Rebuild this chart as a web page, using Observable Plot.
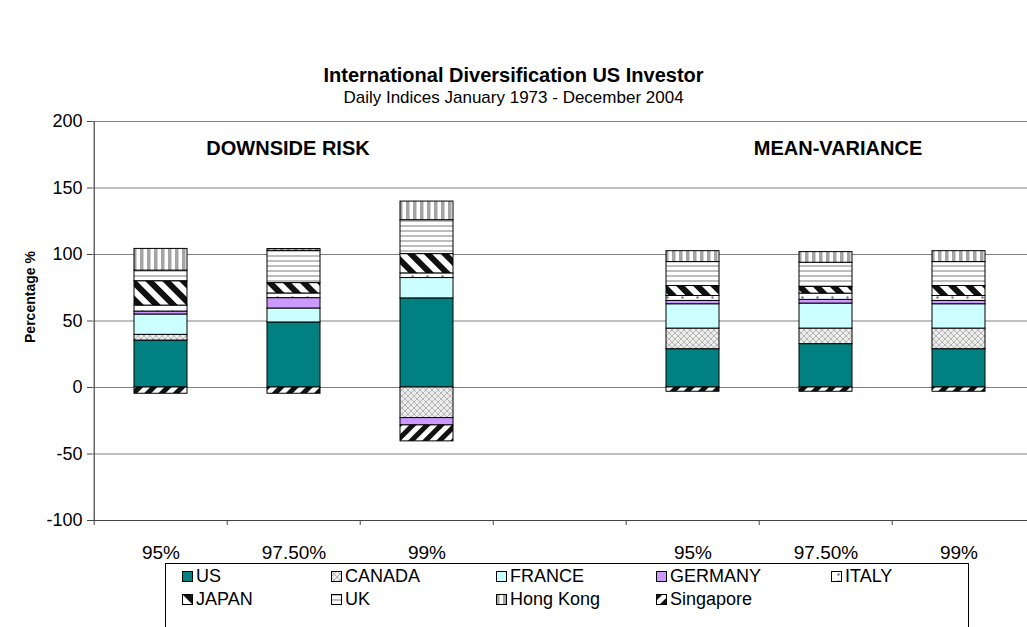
<!DOCTYPE html>
<html><head><meta charset="utf-8">
<script src="https://cdn.jsdelivr.net/npm/d3@7"></script>
<script src="https://cdn.jsdelivr.net/npm/@observablehq/plot@0.6"></script>
<style>
body{margin:0;background:#fff;font-family:"Liberation Sans",Arial,sans-serif;}
#wrap{position:relative;width:1027px;height:627px;overflow:hidden;background:#fff;}
.title{position:absolute;left:0;width:1027px;text-align:center;color:#000;white-space:nowrap;}
#legend{position:absolute;left:165px;top:563px;width:804px;height:90px;border:1px solid #000;box-sizing:border-box;background:#fff;}
.item{position:absolute;font-size:18px;color:#000;white-space:nowrap;display:flex;align-items:center;}
.item svg{margin-right:3px;}
</style></head><body>
<div id="wrap">
<svg width="0" height="0" style="position:absolute">
<defs>
<pattern id="p-canada" width="6" height="6" patternUnits="userSpaceOnUse">
<rect width="6" height="6" fill="#ececec"/>
<path d="M0,0L6,6M6,0L0,6" stroke="#b4b4b4" stroke-width="1"/>
</pattern>
<pattern id="p-italy" width="15" height="7" patternUnits="userSpaceOnUse">
<rect width="15" height="7" fill="#fff"/>
<circle cx="7.5" cy="3.5" r="1.2" fill="#777"/>
</pattern>
<pattern id="p-japan" width="12" height="12" patternUnits="userSpaceOnUse" patternTransform="rotate(-45)">
<rect width="12" height="12" fill="#fff"/>
<rect width="6" height="12" fill="#111"/>
</pattern>
<pattern id="p-sing" width="10" height="10" patternUnits="userSpaceOnUse" patternTransform="rotate(45)">
<rect width="10" height="10" fill="#fff"/>
<rect width="5" height="10" fill="#111"/>
</pattern>
<pattern id="p-uk" width="4" height="5" patternUnits="userSpaceOnUse">
<rect width="4" height="5" fill="#fff"/>
<rect width="4" height="2" fill="#bdbdbd"/>
</pattern>
<pattern id="p-hk" width="7" height="4" patternUnits="userSpaceOnUse">
<rect width="7" height="4" fill="#fff"/>
<rect width="3.5" height="4" fill="#a4a4a4"/>
</pattern>
</defs>
</svg>
<div class="title" style="top:64px;font-weight:bold;font-size:20px">International Diversification US Investor</div>
<div class="title" style="top:88px;font-size:17px">Daily Indices January 1973 - December 2004</div>
<div id="chart" style="position:absolute;left:0;top:0"></div>
<div id="legend"></div>
</div>
<script>
const catKeys = ["DR95","DR975","DR99","GAP","MV95","MV975","MV99"];
const catLabels = ["95%","97.50%","99%","","95%","97.50%","99%"];
const countries = ["US","CANADA","FRANCE","GERMANY","ITALY","JAPAN","UK","Hong Kong","Singapore"];
const usVals        = [35.3, 48.9, 67.0, null, 28.8, 32.6, 28.8];
const canadaVals    = [4.3, 0, -23.0, null, 15.5, 11.7, 15.5];
const franceVals    = [15.3, 10.5, 15.3, null, 18.3, 18.8, 18.3];
const germanyVals   = [2.2, 7.8, -5.5, null, 2.5, 2.8, 2.5];
const italyVals     = [4.5, 3.5, 3.5, null, 3.7, 4.7, 3.7];
const japanVals     = [18.3, 7.8, 14.5, null, 7.5, 5.0, 7.5];
const ukVals        = [8.0, 24.3, 25.5, null, 18.0, 18.2, 18.0];
const hkVals        = [16.3, 1.3, 14.0, null, 8.2, 8.0, 8.2];
const singaporeVals = [-4.7, -4.7, -12.0, null, -3.2, -3.2, -3.2];
const yTicks = [-100, -50, 0, 50, 100, 150, 200];
const gridTicks = [-50, 0, 50, 100, 150, 200];
const groupLabels = [{k: "DR975", t: "DOWNSIDE RISK", dx: -6}, {k: "MV975", t: "MEAN-VARIANCE", dx: 12}];

const seriesVals = [usVals, canadaVals, franceVals, germanyVals, italyVals, japanVals, ukVals, hkVals, singaporeVals];
const fills = ["#008080", "url(#p-canada)", "#CCFFFF", "#CC99FF", "url(#p-italy)", "url(#p-japan)", "url(#p-uk)", "url(#p-hk)", "url(#p-sing)"];

const rows = [];
countries.forEach((c, si) => {
  seriesVals[si].forEach((v, ci) => {
    if (v !== null && v !== 0) rows.push({cat: catKeys[ci], country: c, value: v});
  });
});
const labelOf = Object.fromEntries(catKeys.map((k, i) => [k, catLabels[i]]));

const W = 1027, ML = 92, MR = 0;
const step = (W - ML - MR) / catKeys.length;

const chart = Plot.plot({
  width: W, height: 570,
  marginTop: 121, marginBottom: 50, marginLeft: ML, marginRight: MR,
  style: {fontFamily: "'Liberation Sans', Arial, sans-serif", fontSize: "18px", color: "#000", background: "transparent"},
  x: {domain: catKeys, paddingInner: 0.6, paddingOuter: 0.3, axis: null},
  y: {domain: [-100, 200], axis: null},
  color: {type: "ordinal", domain: countries, range: fills},
  marks: [
    Plot.ruleY(gridTicks, {stroke: "#808080", strokeWidth: 1}),
    Plot.barY(rows, Plot.stackY({x: "cat", y: "value", fill: "country", stroke: "#000", strokeWidth: 1})),
    Plot.ruleY([-100], {stroke: "#444", strokeWidth: 1.2}),
    Plot.ruleX([catKeys[0]], {dx: -step / 2, stroke: "#444", strokeWidth: 1.2}),
    Plot.ruleX(catKeys, {y1: -100, y2: -100, insetBottom: -5, dx: -step / 2, stroke: "#444"}),
    Plot.axisY({ticks: yTicks, tickSize: 5, tickPadding: 5, tickFormat: d => String(d), fontSize: 18, stroke: "#444", label: null}),
    Plot.axisX({tickSize: 0, tickPadding: 25, tickFormat: k => labelOf[k], fontSize: 19, label: null}),
    Plot.text(groupLabels.slice(0, 1), {x: "k", y: () => 180, text: "t", fontWeight: "bold", fontSize: 20, dx: -6}),
    Plot.text(groupLabels.slice(1), {x: "k", y: () => 180, text: "t", fontWeight: "bold", fontSize: 20, dx: 12}),
    Plot.text(["Percentage %"], {y: () => 68, frameAnchor: "left", textAnchor: "middle", text: d => d, rotate: -90, dx: -62, fontWeight: "bold", fontSize: 14})
  ]
});
document.getElementById("chart").appendChild(chart);

// legend
const legendPos = [[16, 0], [165, 0], [330, 0], [490, 0], [665, 0], [16, 1], [165, 1], [330, 1], [490, 1]];
const legend = document.getElementById("legend");
countries.forEach((c, i) => {
  const [lx, row] = legendPos[i];
  const d = document.createElement("div");
  d.className = "item";
  d.style.left = lx + "px";
  d.style.top = (row * 23 + 1) + "px";
  d.style.height = "22px";
  d.innerHTML = `<svg width="11" height="11"><rect x="0.5" y="0.5" width="10" height="10" fill="${fills[i]}" stroke="#000"/></svg>${c}`;
  legend.appendChild(d);
});
</script>
</body></html>
